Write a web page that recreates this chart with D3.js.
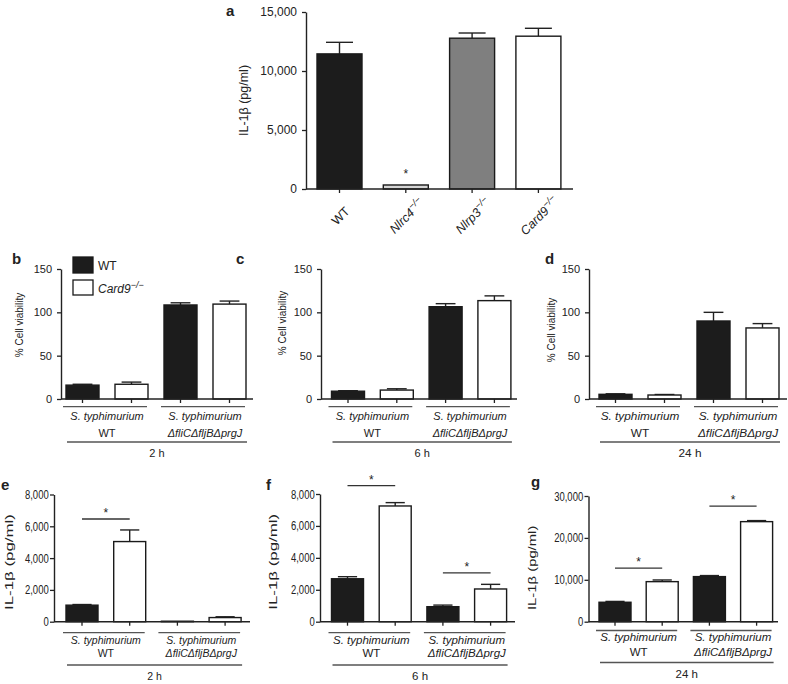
<!DOCTYPE html>
<html>
<head>
<meta charset="utf-8">
<script src="https://cdn.jsdelivr.net/npm/d3@7"></script>
<style>
  body { margin: 0; background: #fff; }
  svg text { font-family: "Liberation Sans", Arial, Helvetica, sans-serif; fill: #222; }
</style>
</head>
<body>
<div id="plot"></div>
<script>
// ---- data ----
const aCategories = ["WT", "Nlrc4", "Nlrp3", "Card9"];
const aValues = [11450, 340, 12780, 12950];
const aErrors = [980, 0, 440, 670];
const aTicks = [0, 5000, 10000, 15000];

const groupTop = ["S. typhimurium", "S. typhimurium"];
const groupBottom = ["WT", "ΔfliCΔfljBΔprgJ"];
const timeLabels = ["2 h", "6 h", "24 h"];
const legendLabels = ["WT", "Card9"];

const viabTicks = [0, 50, 100, 150];
const viab2h = [16, 17, 108.5, 109.5];
const viab2hErr = [1, 2.5, 2.5, 3.5];
const viab6h = [9, 10.3, 106.5, 113.5];
const viab6hErr = [0.6, 1.5, 3.5, 5.5];
const viab24h = [5.4, 4.6, 90, 82];
const viab24hErr = [0.6, 0.6, 10, 5];

const il1bTicks = [0, 2000, 4000, 6000, 8000];
const il1bTicks24 = [0, 10000, 20000, 30000];
const il1b2h = [1040, 5040, 30, 260];
const il1b2hErr = [40, 730, 0, 50];
const il1b6h = [2690, 7250, 940, 2050];
const il1b6hErr = [130, 210, 100, 290];
const il1b24h = [4640, 9560, 10760, 23880];
const il1b24hErr = [200, 400, 250, 250];

// significance bars: [bar i, bar j, height in data units]
const sig2h = [[0, 1, 6460]];
const sig6h = [[0, 1, 8530], [2, 3, 3060]];
const sig24h = [[0, 1, 12800], [2, 3, 27600]];

const black = "#1c1c1c";
const pairFills = [black, "#fff", black, "#fff"];

const svg = d3.select("#plot").append("svg")
  .attr("width", 788)
  .attr("height", 684);

function txt(x, y, s, o = {}) {
  let tr = `translate(${x},${y})`;
  if (o.rot) tr += ` rotate(${o.rot})`;
  if (o.sx || o.sy) tr += ` scale(${o.sx || 1},${o.sy || 1})`;
  return svg.append("text")
    .attr("transform", tr)
    .attr("text-anchor", o.anchor || "start")
    .attr("font-size", o.size || 11)
    .attr("font-style", o.italic ? "italic" : null)
    .attr("font-weight", o.bold ? "bold" : null)
    .text(s);
}

function drawPanel(p) {
  const n = p.values.length;
  const pad = 1 - p.bw / p.step;
  const y = d3.scaleLinear().domain([0, p.ymax]).range([p.y0, p.y1]);
  const x = d3.scaleBand()
    .domain(d3.range(n))
    .range([p.c1 - p.step / 2, p.c1 - p.step / 2 + p.step * n])
    .paddingInner(pad)
    .paddingOuter(pad / 2);
  const g = svg.append("g");
  const cx = i => x(i) + x.bandwidth() / 2;

  // error bars (upper only)
  const capW = x.bandwidth() * 0.6;
  p.errors.forEach((e, i) => {
    if (!e) return;
    const top = y(p.values[i] + e);
    g.append("line").attr("x1", cx(i)).attr("x2", cx(i))
      .attr("y1", y(p.values[i])).attr("y2", top)
      .attr("stroke", "#222").attr("stroke-width", 1.4);
    g.append("line").attr("x1", cx(i) - capW / 2).attr("x2", cx(i) + capW / 2)
      .attr("y1", top).attr("y2", top)
      .attr("stroke", "#222").attr("stroke-width", 1.4);
  });

  g.selectAll("rect.bar").data(p.values).join("rect")
    .attr("class", "bar")
    .attr("x", (d, i) => x(i))
    .attr("y", d => y(d))
    .attr("width", x.bandwidth())
    .attr("height", d => y(0) - y(d))
    .attr("fill", (d, i) => p.fills[i])
    .attr("stroke", "#1a1a1a")
    .attr("stroke-width", 1.4);

  // y axis
  const ya = g.append("g")
    .attr("transform", `translate(${p.ax},0)`)
    .call(d3.axisLeft(y).tickValues(p.ticks).tickFormat(d3.format(","))
      .tickSize(4).tickSizeOuter(0).tickPadding(p.tickPad || 4));
  ya.select(".domain").attr("stroke", "#222").attr("stroke-width", 1.4);
  ya.selectAll(".tick line").attr("stroke", "#222").attr("stroke-width", 1.3);
  ya.selectAll(".tick text")
    .attr("font-size", p.tickSize)
    .attr("font-family", null)
    .attr("fill", "#222")
    .attr("transform", p.tickSx ? `scale(${p.tickSx},1)` : null);

  // x axis: baseline + downward ticks under each bar
  const xa = g.append("g")
    .attr("transform", `translate(0,${p.y0})`)
    .call(d3.axisBottom(x).tickSize(4).tickSizeOuter(0).tickFormat(""));
  xa.select(".domain").remove();
  xa.selectAll(".tick line").attr("stroke", "#222").attr("stroke-width", 1.3);
  g.append("line").attr("x1", p.ax).attr("x2", p.xEnd)
    .attr("y1", p.y0).attr("y2", p.y0)
    .attr("stroke", "#222").attr("stroke-width", 1.4);

  // y title
  txt(p.titleX, (p.y0 + p.y1) / 2 + (p.titleDy || 0), p.title, {
    rot: -90, anchor: "middle", size: p.titleSize,
    sx: p.titleSx, sy: p.titleSy
  });

  // panel letter
  txt(p.letterX, p.letterY, p.letter, { size: 15, bold: true });

  return { x, y, cx, g };
}

function drawGroups(p, r) {
  const lw = 1.3;
  [0, 1].forEach(k => {
    const i0 = 2 * k, i1 = 2 * k + 1;
    const xa = r.x(i0) - 3, xb = r.x(i1) + r.x.bandwidth() - 1;
    svg.append("line").attr("x1", xa).attr("x2", xb)
      .attr("y1", p.gLineY).attr("y2", p.gLineY)
      .attr("stroke", "#555").attr("stroke-width", lw);
    const mid = (r.cx(i0) + r.cx(i1)) / 2;
    txt(mid, p.gText1, groupTop[k], { anchor: "middle", size: p.gSize, italic: true });
    txt(mid, p.gText2, groupBottom[k], { anchor: "middle", size: p.gSize, italic: k === 1 });
  });
  const xa = r.x(0) + 1, xb = r.x(3) + r.x.bandwidth() + 1;
  svg.append("line").attr("x1", xa).attr("x2", xb)
    .attr("y1", p.bigLineY).attr("y2", p.bigLineY)
    .attr("stroke", "#555").attr("stroke-width", lw);
  txt((xa + xb) / 2, p.timeY, p.time, { anchor: "middle", size: p.gSize });
}

function drawSig(r, sigs) {
  sigs.forEach(([i, j, v]) => {
    const yy = r.y(v);
    svg.append("line").attr("x1", r.cx(i)).attr("x2", r.cx(j))
      .attr("y1", yy).attr("y2", yy)
      .attr("stroke", "#333").attr("stroke-width", 1.3);
    txt((r.cx(i) + r.cx(j)) / 2, yy - 2, "*", { anchor: "middle", size: 12 });
  });
}

// ---- panel a ----
const pa = {
  values: aValues, errors: aErrors, fills: [black, "#d6d6d6", "#7f7f7f", "#fff"],
  ymax: 15000, y0: 189, y1: 12, ax: 306, xEnd: 573, c1: 339.5, step: 66.3, bw: 45,
  ticks: aTicks, tickSize: 12, tickPad: 5,
  title: "IL-1β (pg/ml)", titleX: 248, titleSize: 12.5, letter: "a", letterX: 226, letterY: 16
};
const ra = drawPanel(pa);
aCategories.forEach((c, i) => {
  const t = txt(ra.cx(i) + 4, 219, "", { rot: -45, anchor: "middle", size: 12.5 });
  t.append("tspan").attr("font-style", i === 0 ? null : "italic").text(c);
  if (i > 0) t.append("tspan").attr("dy", -5).attr("font-size", 9.5).attr("font-style", "italic").text("−/−");
});
txt(ra.cx(1), ra.y(1356) + 5, "*", { anchor: "middle", size: 12 });

// ---- viability panels b, c, d ----
const viabCommon = {
  fills: pairFills, ymax: 150, y0: 399, y1: 269, bw: 33, ticks: viabTicks,
  tickSize: 11, tickPad: 5, title: "% Cell viability", titleSize: 10,
  gLineY: 406.7, gText1: 420, gText2: 436.7, bigLineY: 442, timeY: 456.5, gSize: 11
};
const pb = Object.assign({}, viabCommon, {
  values: viab2h, errors: viab2hErr, ax: 61, xEnd: 253, c1: 82.5, step: 49,
  titleX: 22.5, titleDy: -9, letter: "b", letterX: 12, letterY: 264, time: timeLabels[0]
});
const pc = Object.assign({}, viabCommon, {
  values: viab6h, errors: viab6hErr, ax: 321, xEnd: 517, c1: 348, step: 48.8,
  titleX: 286, titleDy: -11, letter: "c", letterX: 236, letterY: 264, time: timeLabels[1]
});
const pd = Object.assign({}, viabCommon, {
  values: viab24h, errors: viab24hErr, ax: 589, xEnd: 787, c1: 615.5, step: 49,
  titleX: 555, titleDy: -4, letter: "d", letterX: 545, letterY: 264, time: timeLabels[2], gSize: 11.8
});
[pb, pc, pd].forEach(p => drawGroups(p, drawPanel(p)));

// legend
svg.append("rect").attr("x", 73).attr("y", 257).attr("width", 20).attr("height", 16)
  .attr("fill", black).attr("stroke", "#1a1a1a").attr("stroke-width", 1.3);
svg.append("rect").attr("x", 73).attr("y", 280).attr("width", 20).attr("height", 15)
  .attr("fill", "#fff").attr("stroke", "#1a1a1a").attr("stroke-width", 1.3);
txt(98, 270, legendLabels[0], { size: 12 });
const lg = txt(98, 293, "", { size: 12 });
lg.append("tspan").attr("font-style", "italic").text(legendLabels[1]);
lg.append("tspan").attr("dy", -5).attr("font-size", 9).attr("font-style", "italic").text("−/−");

// ---- IL-1β panels e, f, g ----
const ilCommon = {
  fills: pairFills, y0: 621.7, bw: 32, tickSize: 12.5, tickSx: 0.76, tickPad: 3,
  title: "IL-1β (pg/ml)", titleSize: 13.5, titleSx: 1.25, titleSy: 0.8,
  gLineY: 632.7, gText1: 643.5, gText2: 657, bigLineY: 665, timeY: 680, gSize: 10.5
};
const pe = Object.assign({}, ilCommon, {
  values: il1b2h, errors: il1b2hErr, ymax: 8000, y1: 494.5, ax: 54, xEnd: 250,
  c1: 82, step: 47.7, ticks: il1bTicks, titleX: 13, titleDy: 4,
  letter: "e", letterX: 1, letterY: 490, time: timeLabels[0]
});
const pf = Object.assign({}, ilCommon, {
  values: il1b6h, errors: il1b6hErr, ymax: 8000, y1: 494, ax: 320, xEnd: 515,
  c1: 347.5, step: 47.7, ticks: il1bTicks, titleX: 277, titleDy: 4,
  letter: "f", letterX: 266, letterY: 490, time: timeLabels[1], gSize: 11.5
});
const pg = Object.assign({}, ilCommon, {
  values: il1b24h, errors: il1b24hErr, ymax: 30000, y1: 496, ax: 588.5, xEnd: 778,
  c1: 615, step: 47.2, ticks: il1bTicks24, titleX: 536, titleDy: 9, titleSx: 1.1,
  letter: "g", letterX: 531, letterY: 487, time: timeLabels[2], gSize: 11.5,
  gLineY: 630.5, gText1: 641, gText2: 655.5, bigLineY: 662.5, timeY: 678
});
const re = drawPanel(pe); drawGroups(pe, re); drawSig(re, sig2h);
const rf = drawPanel(pf); drawGroups(pf, rf); drawSig(rf, sig6h);
const rg = drawPanel(pg); drawGroups(pg, rg); drawSig(rg, sig24h);
</script>
</body>
</html>
